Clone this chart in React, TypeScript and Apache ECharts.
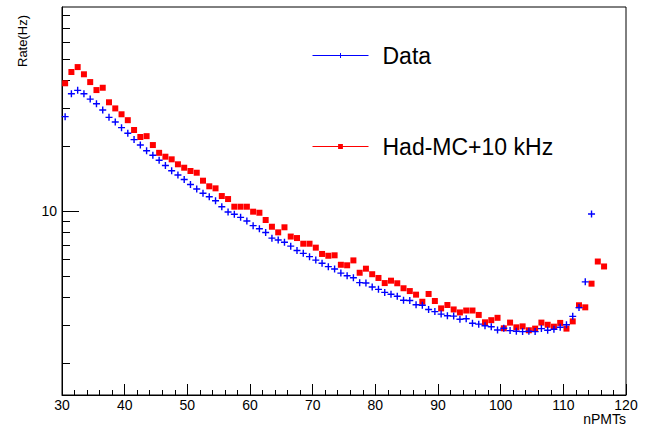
import React, { useEffect, useRef } from "react";
import * as echarts from "echarts";

// ---- data ----
const FIRST_BIN = 30; // lower edge of first nPMTs bin (bin width 1)
const seriesNames = ["Data", "Had-MC+10 kHz"];
const dataRates = [
  27.3, 34.8, 36.1, 34.8, 32.9, 31.3, 29.3, 27.1, 25.8, 24.3,
  22.9, 21.4, 20.2, 19.02, 18.14, 17.2, 16.26, 15.37, 14.7, 14.01,
  13.29, 12.67, 12.12, 11.67, 11.18, 10.5, 9.93, 9.69, 9.38, 9.02,
  8.59, 8.31, 7.99, 7.52, 7.38, 7.2, 6.91, 6.6, 6.4, 6.18,
  5.96, 5.76, 5.56, 5.42, 5.19, 5.05, 4.94, 4.69, 4.67, 4.48,
  4.37, 4.23, 4.15, 4.06, 3.89, 3.88, 3.71, 3.69, 3.53, 3.45,
  3.36, 3.3, 3.29, 3.18, 3.2, 3.05, 3.02, 2.97, 2.94, 2.84,
  2.89, 2.82, 2.8, 2.79, 2.8, 2.79, 2.88, 2.83, 2.86, 2.92,
  3.0, 3.28, 3.6, 4.73, 9.72,
];
const mcRates = [
  38.9, 43.85, 46.2, 42.8, 39.4, 36.2, 37.1, 31.8, 29.8, 28.0,
  26.3, 23.7, 22.0, 22.2, 20.2, 18.6, 17.85, 17.36, 16.47, 15.88,
  15.34, 15.06, 13.84, 13.04, 12.76, 11.76, 11.39, 10.5, 10.5, 10.5,
  9.96, 9.85, 9.12, 8.49, 8.0, 8.44, 7.65, 7.53, 7.09, 7.09,
  6.8, 6.36, 6.24, 6.27, 5.67, 5.64, 5.94, 5.21, 5.44, 5.13,
  4.93, 4.67, 4.79, 4.66, 4.42, 4.29, 4.13, 3.83, 4.16, 3.86,
  3.57, 3.7, 3.53, 3.42, 3.49, 3.49, 3.33, 3.08, 3.15, 3.23,
  2.89, 3.07, 2.92, 2.95, 2.83, 2.88, 3.07, 3.0, 2.94, 3.06,
  2.88, 3.11, 3.69, 3.61, 4.64, 5.87, 5.57,
];
const xMin = 30;
const xMax = 120;
const xInterval = 10;
const yMin = 1.424;
const yMax = 87.4;
const yMajorTicks = [10];
const yMinorTicks = [2, 3, 4, 5, 6, 7, 8, 9, 20, 30, 40, 50, 60, 70, 80];
const xTitle = "nPMTs";
const yTitle = "Rate(Hz)";

const FONT = "'Liberation Sans', Arial, Helvetica, sans-serif";
const PLUS =
  "path://M2.8,0H4.2V2.8H7V4.2H4.2V7H2.8V4.2H0V2.8H2.8Z";

function toPoints(rates: number[]) {
  return rates.map((v, i) => [FIRST_BIN + i + 0.5, v]);
}

export default function App() {
  const ref = useRef<HTMLDivElement>(null);
  useEffect(() => {
    if (!ref.current) return;
    const chart = echarts.init(ref.current, null, { renderer: "svg" });
    const logAxisBase = {
      type: "log" as const,
      logBase: 10,
      min: yMin,
      max: yMax,
      position: "left" as const,
      splitLine: { show: false },
      minorTick: { show: false },
      minorSplitLine: { show: false },
    };
    chart.setOption({
      animation: false,
      backgroundColor: "#fff",
      grid: {
        left: 62,
        top: 7,
        width: 564,
        height: 388,
        show: true,
        borderColor: "#000",
        borderWidth: 1,
        backgroundColor: "transparent",
      },
      legend: {
        orient: "vertical",
        left: 312,
        top: 44,
        padding: 0,
        itemWidth: 56,
        itemHeight: 6,
        itemGap: 68,
        selectedMode: false,
        textStyle: {
          fontSize: 23,
          fontFamily: FONT,
          color: "#000",
          padding: [0, 0, 0, 9],
        },
        lineStyle: { opacity: 1, width: 1 },
        data: seriesNames,
      },
      xAxis: {
        type: "value",
        min: xMin,
        max: xMax,
        interval: xInterval,
        axisLine: { onZero: false, lineStyle: { color: "#000", width: 1 } },
        axisTick: { inside: true, length: 11, lineStyle: { color: "#000" } },
        minorTick: { show: true, splitNumber: 5, length: 5, lineStyle: { color: "#000" } },
        axisLabel: {
          margin: 3,
          fontSize: 14,
          fontFamily: FONT,
          color: "#000",
          showMinLabel: true,
          showMaxLabel: true,
        },
        splitLine: { show: false },
      },
      yAxis: [
        {
          ...logAxisBase,
          axisLine: { show: true, lineStyle: { color: "#000", width: 1 } },
          axisTick: {
            show: true,
            inside: true,
            length: 8,
            customValues: yMinorTicks,
            lineStyle: { color: "#000" },
          },
          axisLabel: { show: false },
        },
        {
          ...logAxisBase,
          axisLine: { show: false },
          axisTick: {
            show: true,
            inside: true,
            length: 17,
            customValues: yMajorTicks,
            lineStyle: { color: "#000" },
          },
          axisLabel: {
            show: true,
            customValues: yMajorTicks,
            formatter: (v: number) => String(Math.round(v)),
            margin: 5,
            fontSize: 14,
            fontFamily: FONT,
            color: "#000",
          },
        },
      ],
      series: [
        {
          name: seriesNames[0],
          type: "line",
          data: toPoints(dataRates),
          symbol: PLUS,
          symbolSize: 7,
          showAllSymbol: true,
          itemStyle: { color: "#0000ff" },
          lineStyle: { color: "#0000ff", width: 1, opacity: 0 },
          z: 3,
        },
        {
          name: seriesNames[1],
          type: "line",
          data: toPoints(mcRates),
          symbol: "rect",
          symbolSize: 6,
          showAllSymbol: true,
          itemStyle: { color: "#ff0000" },
          lineStyle: { color: "#ff0000", width: 1, opacity: 0 },
          z: 2,
        },
      ],
      graphic: [
        {
          type: "text",
          x: 626,
          y: 419,
          style: {
            text: xTitle,
            fontSize: 14,
            fontFamily: FONT,
            fill: "#000",
            textAlign: "right",
            textVerticalAlign: "middle",
          },
        },
        {
          type: "text",
          x: 22,
          y: 67,
          rotation: Math.PI / 2,
          style: {
            text: yTitle,
            fontSize: 13,
            fontFamily: FONT,
            fill: "#000",
            textAlign: "left",
            textVerticalAlign: "middle",
          },
        },
      ],
    });
    return () => chart.dispose();
  }, []);
  return (
    <div
      ref={ref}
      style={{ position: "fixed", left: 0, top: 0, width: 661, height: 428 }}
    />
  );
}
